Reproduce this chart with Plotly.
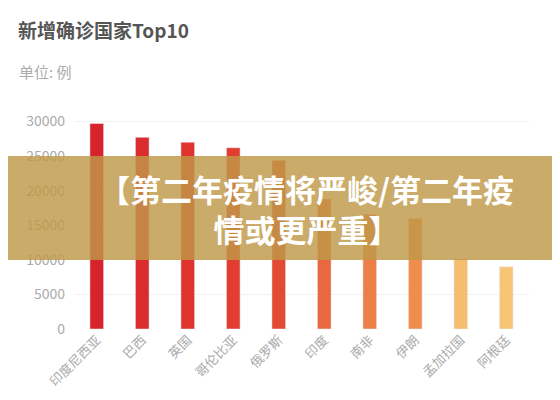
import plotly.graph_objects as go

countries = ["印度尼西亚", "巴西", "英国", "哥伦比亚", "俄罗斯", "印度", "南非", "伊朗", "孟加拉国", "阿根廷"]
cases = [29700, 27700, 27000, 26200, 24400, 18800, 16600, 16000, 10200, 9000]
ytick_vals = [0, 5000, 10000, 15000, 20000, 25000, 30000]
ytick_text = ["0", "5000", "10000", "15000", "20000", "25000", "30000"]
colors = ["#d8232a", "#dc2b2c", "#df332e", "#e23d31", "#e34a33", "#e9683f", "#ec7e47", "#ef8d4d", "#f5bd6e", "#f6c676"]

L, R, T, B = 66, 39, 110, 79
PH = 400 - T - B
PW = 560 - L - R
def py(y):
    return (400 - B - y) / PH
def px(x):
    return (x - L) / PW

fig = go.Figure(go.Bar(x=countries, y=cases, marker_color=colors, width=0.3))
fig.update_layout(
    width=560, height=400, margin=dict(l=L, r=R, t=T, b=B, autoexpand=False),
    plot_bgcolor="white", paper_bgcolor="white", showlegend=False,
    font=dict(family="Noto Sans CJK SC", color="#999999"),
)
fig.update_yaxes(range=[0, 30500], tickvals=ytick_vals, ticktext=ytick_text, automargin=False,
                 showgrid=True, gridcolor="#f2f2f2", zeroline=False, tickfont=dict(size=14, color="#aaaaaa"),
                 ticklabelstandoff=8)
fig.update_xaxes(tickangle=-45, tickfont=dict(size=13, color="#aaaaaa"), showline=False, automargin=False)
fig.add_annotation(text="<b>新增确诊国家Top10</b>", xref="paper", yref="paper", x=px(8), y=py(22),
                   xanchor="left", yanchor="middle", showarrow=False, font=dict(size=19, color="#555555"))
fig.add_annotation(text="单位: 例", xref="paper", yref="paper", x=px(9), y=py(63), xanchor="left",
                   yanchor="middle", showarrow=False, font=dict(size=15, color="#aaaaaa"))
fig.add_shape(type="rect", xref="paper", yref="paper", x0=px(0), x1=px(560),
              y0=py(252), y1=py(148), fillcolor="rgba(192,152,72,0.82)", line_width=0, layer="above")
fig.add_annotation(text="<b>【第二年疫情将严峻/第二年疫<br>情或更严重】</b>", xref="paper", yref="paper",
                   x=px(298), y=py(200), xanchor="center", yanchor="middle", showarrow=False,
                   align="center", font=dict(size=31, color="white"))
fig.write_html("out.html")
